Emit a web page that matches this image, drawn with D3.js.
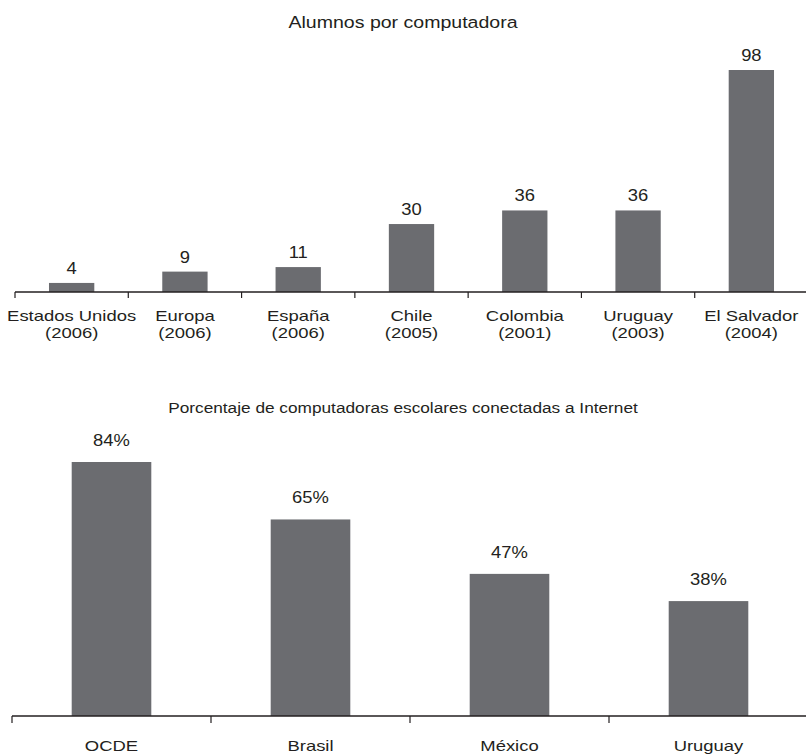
<!DOCTYPE html>
<html><head><meta charset="utf-8">
<script src="https://cdn.jsdelivr.net/npm/d3@7"></script>
<style>body{margin:0;background:#fff}svg{display:block}text{font-family:"Liberation Sans",Arial,sans-serif;fill:#231f20}</style>
</head><body><svg id="c" width="806" height="755"></svg>
<script>
const title1 = "Alumnos por computadora";
const cats1 = ["Estados Unidos|(2006)","Europa|(2006)","España|(2006)","Chile|(2005)","Colombia|(2001)","Uruguay|(2003)","El Salvador|(2004)"];
const vals1 = [4,9,11,30,36,36,98];
const title2 = "Porcentaje de computadoras escolares conectadas a Internet";
const cats2 = ["OCDE","Brasil","México","Uruguay"];
const vals2 = [84,65,47,38];

const svg = d3.select("#c");
const barColor = "#6b6c70", axisColor = "#231f20";

function txt(g, x, y, size, sx, lines, lh){
  const t = g.append("text").attr("text-anchor","middle").attr("font-size",size)
    .attr("transform",`translate(${x},${y}) scale(${sx},1)`);
  lines.forEach((p,j)=>t.append("tspan").attr("x",0).attr("y",j*(lh||0)).text(p));
  return t;
}

function panel(cfg){
  const g = svg.append("g");
  const x = d3.scaleBand().domain(cfg.cats).range([cfg.x0,cfg.x1]).paddingInner(0.6).paddingOuter(0.3);
  const y = d3.scaleLinear().domain([0,cfg.max]).range([cfg.base,cfg.top]);
  txt(g, 403, cfg.titleY, cfg.titleFs, 1.15, [cfg.title]);
  g.selectAll("rect").data(cfg.vals).join("rect")
    .attr("x",(d,i)=>x(cfg.cats[i])).attr("width",x.bandwidth())
    .attr("y",d=>y(d)).attr("height",d=>cfg.base-y(d)).attr("fill",barColor);
  cfg.vals.forEach((d,i)=>txt(g, x(cfg.cats[i])+x.bandwidth()/2, y(d)-cfg.lblGap, 16, 1.15, [d+cfg.suffix]));
  const ax = g.append("g").attr("transform",`translate(0,${cfg.base})`)
    .call(d3.axisBottom(x).tickSize(0).tickFormat(""));
  ax.select(".domain").attr("stroke",axisColor).attr("stroke-width",1.3).attr("d",`M${cfg.x0},0H${cfg.x1}`);
  const step = (cfg.x1-cfg.x0)/cfg.cats.length;
  g.selectAll("line.t").data(d3.range(cfg.cats.length)).join("line").attr("class","t")
    .attr("x1",i=>cfg.x0+i*step).attr("x2",i=>cfg.x0+i*step)
    .attr("y1",cfg.base).attr("y2",cfg.base+cfg.tick).attr("stroke",axisColor).attr("stroke-width",1.2);
  cfg.cats.forEach(c=>txt(g, x(c)+x.bandwidth()/2, cfg.catY, 15, 1.23, c.split("|"), cfg.lh));
}
panel({title:title1,cats:cats1,vals:vals1,max:98,base:292,top:70,x0:15,x1:808,titleY:28,titleFs:17,lblGap:9,suffix:"",catY:321,lh:17,tick:6});
panel({title:title2,cats:cats2,vals:vals2,max:84,base:716,top:462,x0:12,x1:808,titleY:413,titleFs:15,lblGap:16,suffix:"%",catY:751,lh:17,tick:7});
</script></body></html>
